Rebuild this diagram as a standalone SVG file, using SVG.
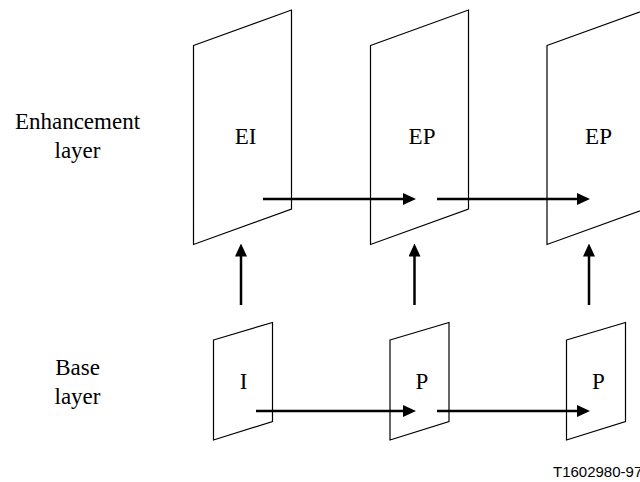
<svg xmlns="http://www.w3.org/2000/svg" width="640" height="482" viewBox="0 0 640 482">
<style>
.frame{fill:none;stroke:#000;stroke-width:1.2}
.lbl{font-family:'Liberation Serif','Times New Roman',serif;font-size:23px;fill:#000;text-anchor:middle}
.conn{stroke:#000;stroke-width:2.5;fill:none}
.tag{font-family:'Liberation Sans',Arial,sans-serif;font-size:15px;fill:#000}
</style>
<defs>
<marker id="ah" markerUnits="userSpaceOnUse" markerWidth="13" markerHeight="12" refX="3" refY="6" orient="auto">
<path d="M0,0 L13,6 L0,12 z" fill="#000"/>
</marker>
</defs>
<rect width="640" height="482" fill="#fff"/>
<g id="row-labels">
<text class="lbl" x="77.5" y="129">Enhancement</text>
<text class="lbl" x="77.5" y="158">layer</text>
<text class="lbl" x="77.5" y="375">Base</text>
<text class="lbl" x="77.5" y="404">layer</text>
</g>
<g id="EI">
<polygon class="frame" points="193.5,45.5 291.5,10 291.5,209 193.5,244.5"/>
<text class="lbl" x="245.5" y="143.5">EI</text>
</g>
<g id="EP1">
<polygon class="frame" points="370.5,45.5 468.5,10 468.5,209 370.5,244.5"/>
<text class="lbl" x="422" y="143.5">EP</text>
</g>
<g id="EP2">
<polygon class="frame" points="547,45.5 645,10 645,209 547,244.5"/>
<text class="lbl" x="598.5" y="143.5">EP</text>
</g>
<g id="I">
<polygon class="frame" points="213.5,340 272.5,322.5 272.5,421.5 213.5,440"/>
<text class="lbl" x="243.5" y="389">I</text>
</g>
<g id="P1">
<polygon class="frame" points="390,340 449,322.5 449,421.5 390,440"/>
<text class="lbl" x="422" y="389">P</text>
</g>
<g id="P2">
<polygon class="frame" points="566.5,340 625.5,322.5 625.5,421.5 566.5,440"/>
<text class="lbl" x="598.5" y="389">P</text>
</g>
<g id="connectors">
<line class="conn" x1="263" y1="199" x2="406" y2="199" marker-end="url(#ah)"/>
<line class="conn" x1="437" y1="199" x2="580" y2="199" marker-end="url(#ah)"/>
<line class="conn" x1="256" y1="411" x2="406" y2="411" marker-end="url(#ah)"/>
<line class="conn" x1="437" y1="411" x2="580" y2="411" marker-end="url(#ah)"/>
<line class="conn" x1="241" y1="305" x2="241" y2="253.5" marker-end="url(#ah)"/>
<line class="conn" x1="414.5" y1="305" x2="414.5" y2="253.5" marker-end="url(#ah)"/>
<line class="conn" x1="589" y1="305" x2="589" y2="253.5" marker-end="url(#ah)"/>
</g>
<text class="tag" x="553" y="476.5">T1602980-97</text>
</svg>
